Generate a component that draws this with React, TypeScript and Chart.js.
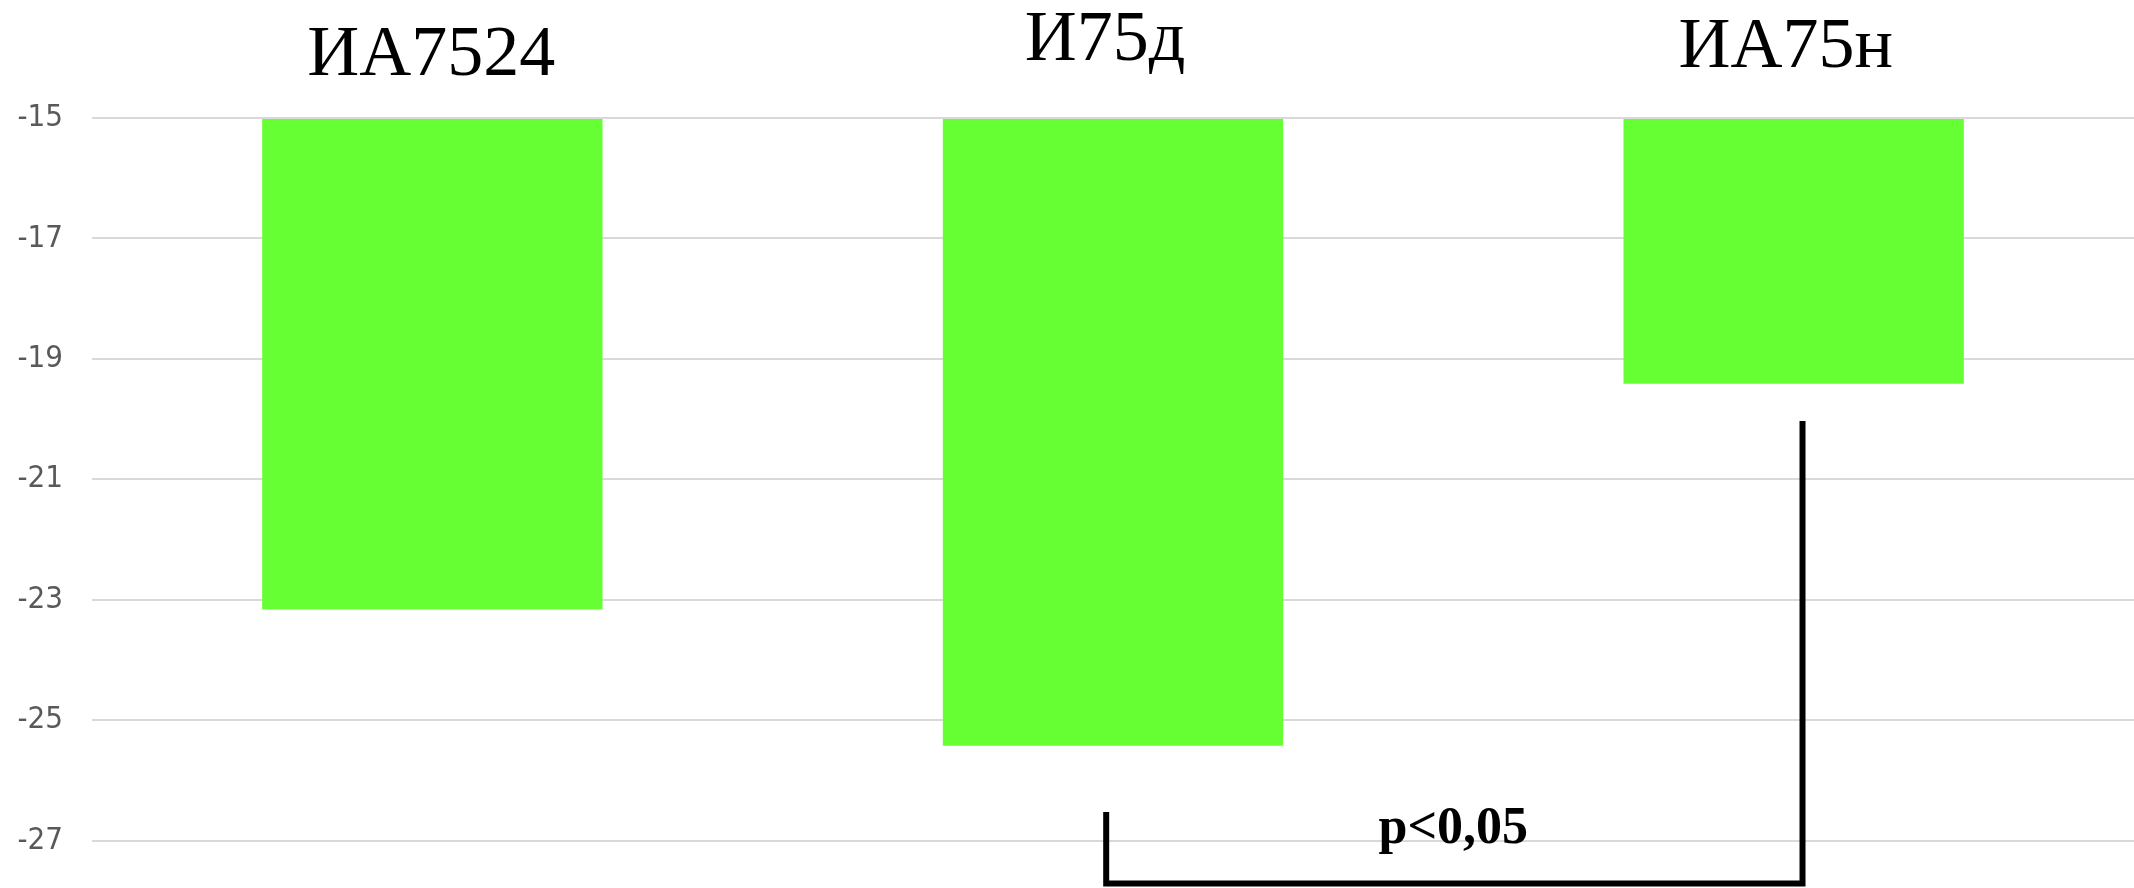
import React, { useEffect, useRef } from "react";
import { Chart, registerables } from "chart.js";

Chart.register(...registerables);

// Groups and their mean values
const groups = ["ИА7524", "И75д", "ИА75н"];
const values = [-23.16, -25.42, -19.41];

// Value axis: bars hang from the top edge of the plot
const axisTicks = [-27, -25, -23, -21, -19, -17, -15];
const axisTop = -15;
const axisBottom = -27.75;

// Significance bracket between И75д and ИА75н (category / value units)
const significanceText = "p<0,05";
const bracketLeft = 0.99;
const bracketRight = 2.013;
const bracketLeftTop = -26.52;
const bracketRightTop = -20.03;
const bracketBase = -27.71;
const significanceX = 1.5;
const significanceY = -27.04;

// Category captions above the plot: small per-caption nudges
const captionShift = [-1, -8, -8];
const captionLift = [43, 58, 51];

const overlayPlugin = {
  id: "groupOverlay",
  afterDraw(chart: any) {
    const { ctx, chartArea, scales } = chart;
    const x = scales.x;
    const y = scales.y;
    ctx.save();

    // category captions
    ctx.fillStyle = "#000000";
    ctx.font = '72px "Liberation Serif", "Times New Roman", serif';
    ctx.textAlign = "center";
    ctx.textBaseline = "alphabetic";
    groups.forEach((g, i) => {
      ctx.fillText(g, x.getPixelForValue(i) + captionShift[i], chartArea.top - captionLift[i]);
    });

    // bracket
    const xl = x.getPixelForValue(bracketLeft);
    const xr = x.getPixelForValue(bracketRight);
    ctx.strokeStyle = "#000000";
    ctx.lineWidth = 6;
    ctx.lineJoin = "miter";
    ctx.lineCap = "butt";
    ctx.beginPath();
    ctx.moveTo(xl, y.getPixelForValue(bracketLeftTop));
    ctx.lineTo(xl, y.getPixelForValue(bracketBase));
    ctx.lineTo(xr, y.getPixelForValue(bracketBase));
    ctx.lineTo(xr, y.getPixelForValue(bracketRightTop));
    ctx.stroke();

    // significance label
    ctx.font = 'bold 52px "Liberation Serif", "Times New Roman", serif';
    ctx.fillText(significanceText, x.getPixelForValue(significanceX), y.getPixelForValue(significanceY));

    ctx.restore();
  },
};

export default function App() {
  const canvasRef = useRef<HTMLCanvasElement | null>(null);

  useEffect(() => {
    const canvas = canvasRef.current;
    if (!canvas) return;
    const chart = new Chart(canvas, {
      type: "bar",
      data: {
        labels: groups,
        datasets: [
          {
            data: values,
            base: axisTop,
            backgroundColor: "#66ff33",
            borderWidth: 0,
            barPercentage: 1,
            categoryPercentage: 0.5,
          } as any,
        ],
      },
      options: {
        responsive: false,
        animation: false,
        devicePixelRatio: 1,
        layout: { padding: { top: 118, bottom: 2, left: 0, right: 0 } },
        plugins: {
          legend: { display: false },
          tooltip: { enabled: false },
          title: { display: false },
        },
        scales: {
          x: {
            type: "category",
            display: false,
            grid: { display: false },
          },
          y: {
            type: "linear",
            min: axisBottom,
            max: axisTop,
            afterBuildTicks: (scale: any) => {
              scale.ticks = axisTicks.map((v) => ({ value: v }));
            },
            afterFit: (scale: any) => {
              scale.width = 92;
              scale.paddingTop = 0;
              scale.paddingBottom = 0;
            },
            grid: { color: "#d9d9d9", lineWidth: 2, drawTicks: false },
            border: { display: false },
            ticks: {
              color: "#595959",
              padding: 29,
              font: { family: '"DejaVu Sans Condensed", "DejaVu Sans", sans-serif', size: 31 },
              callback: (v: any) => String(v),
            },
          },
        },
      },
      plugins: [overlayPlugin],
    });
    return () => chart.destroy();
  }, []);

  return (
    <div style={{ position: "fixed", left: 0, top: 0, width: 2134, height: 888, background: "#ffffff" }}>
      <canvas ref={canvasRef} width={2134} height={888} style={{ display: "block", width: 2134, height: 888 }} />
    </div>
  );
}
